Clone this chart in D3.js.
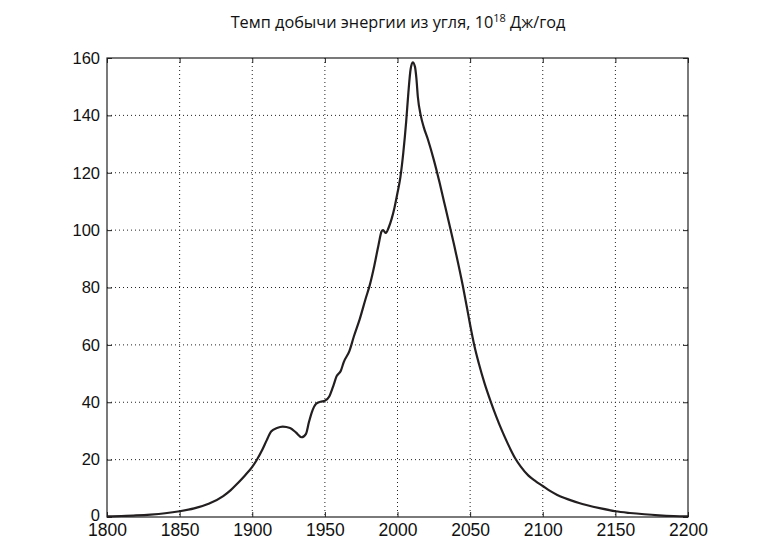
<!DOCTYPE html>
<html>
<head>
<meta charset="utf-8">
<script src="https://cdn.jsdelivr.net/npm/d3@7"></script>
<style>
  html, body { margin: 0; padding: 0; background: #fff; }
  svg { display: block; }
</style>
</head>
<body>
<svg id="chart" width="780" height="546"></svg>
<script>
const title = "Темп добычи энергии из угля, 10";
const titleSup = "18";
const titleEnd = " Дж/год";

const years = [1800,1810,1820,1830,1840,1850,1860,1870,1880,1885,1890,1895,1900,1903,1907,1910,1913,1917,1921,1926,1930,1934,1937,1939,1941,1944,1947,1950,1953,1956,1958,1961,1963,1967,1970,1974,1978,1981,1984,1987,1989,1990,1992,1994,1996,1998,2000,2002,2004,2006,2007.5,2009,2010.5,2012,2013,2014,2016,2018,2021,2025,2029,2032,2035,2040,2045,2048,2050,2053,2056,2060,2064,2068,2072,2076,2081,2085,2090,2095,2100,2105,2110,2115,2120,2125,2130,2140,2150,2160,2170,2180,2190,2200];
const values = [0.2,0.35,0.55,0.85,1.3,2.0,3.0,4.6,7.3,9.3,11.8,14.5,17.5,19.8,23.5,26.8,29.8,31,31.5,31,29.5,27.8,29,33,36.5,39.5,40.2,40.5,42,46,49,51,54,58,63,69,76,81,87.5,95,99.5,100,99,101,104,108,113,118.5,127,138,148,156,158.5,157,153,146.5,140,136,131.5,124.5,116.5,110,103.5,92.5,80.5,72.5,67,59.5,53.5,46.5,40.5,35,30,25.5,20.5,17.5,14.5,12.5,10.8,9.1,7.7,6.6,5.7,4.9,4.2,3.0,2.0,1.4,0.95,0.6,0.35,0.2];

const xTicks = [1800,1850,1900,1950,2000,2050,2100,2150,2200];
const yTicks = [0,20,40,60,80,100,120,140,160];

const data = years.map((y, i) => ({x: y, y: values[i]}));

const margin = {left: 107, right: 92, top: 58, bottom: 29};
const W = 780, H = 546;
const iw = W - margin.left - margin.right;
const ih = H - margin.top - margin.bottom;

const svg = d3.select("#chart");
const g = svg.append("g").attr("transform", `translate(${margin.left},${margin.top})`);

const x = d3.scaleLinear().domain([1800, 2200]).range([0, iw]);
const y = d3.scaleLinear().domain([0, 160]).range([ih, 0]);

// grid
g.append("g").selectAll("line").data(xTicks.slice(1, -1)).join("line")
  .attr("x1", d => x(d)).attr("x2", d => x(d)).attr("y1", 0).attr("y2", ih)
  .attr("stroke", "#222").attr("stroke-width", 1).attr("stroke-dasharray", "1,3");
g.append("g").selectAll("line").data(yTicks.slice(1, -1)).join("line")
  .attr("y1", d => y(d)).attr("y2", d => y(d)).attr("x1", 0).attr("x2", iw)
  .attr("stroke", "#222").attr("stroke-width", 1).attr("stroke-dasharray", "1,3");

// axes
const tickLen = 5;
const xAxis = d3.axisBottom(x).tickValues(xTicks).tickFormat(d3.format("d")).tickSizeInner(-tickLen).tickSizeOuter(0).tickPadding(7);
const yAxis = d3.axisLeft(y).tickValues(yTicks).tickFormat(d3.format("d")).tickSizeInner(-tickLen).tickSizeOuter(0).tickPadding(7);
const xTop = d3.axisTop(x).tickValues(xTicks).tickFormat("").tickSizeInner(-tickLen).tickSizeOuter(0);
const yRight = d3.axisRight(y).tickValues(yTicks).tickFormat("").tickSizeInner(-tickLen).tickSizeOuter(0);

const fontFam = "Liberation Sans, Arial, Helvetica, sans-serif";
const gx = g.append("g").attr("transform", `translate(0,${ih})`).call(xAxis);
const gy = g.append("g").call(yAxis);
g.append("g").call(xTop);
g.append("g").attr("transform", `translate(${iw},0)`).call(yRight);
svg.selectAll(".domain").remove();
svg.selectAll(".tick line").attr("stroke", "#222").attr("stroke-width", 1);
gx.attr("font-family", null);
gy.attr("font-family", null);
gx.selectAll("text").style("font-family", fontFam).style("font-size", "17.5px").attr("fill", "#111");
gy.selectAll("text").style("font-family", fontFam).style("font-size", "16.5px").attr("fill", "#111");
gy.selectAll(".tick").filter(d => d === 0).select("text").attr("dy", "0.2em");

// frame
g.append("rect").attr("x", 0).attr("y", 0).attr("width", iw).attr("height", ih)
  .attr("fill", "none").attr("stroke", "#222").attr("stroke-width", 1.2);

// line
const line = d3.line().x(d => x(d.x)).y(d => y(d.y)).curve(d3.curveMonotoneX);
g.append("path").datum(data).attr("d", line)
  .attr("fill", "none").attr("stroke", "#231f20").attr("stroke-width", 2.2)
  .attr("stroke-linejoin", "round");

// title
const t = svg.append("text").attr("x", 398).attr("y", 28).attr("text-anchor", "middle")
  .style("font-family", "'Open Sans', 'Noto Sans', sans-serif").style("font-size", "16.3px").attr("fill", "#111");
t.append("tspan").text(title);
t.append("tspan").attr("dy", -6).style("font-size", "11px").text(titleSup);
t.append("tspan").attr("dy", 6).text(titleEnd);
</script>
</body>
</html>
